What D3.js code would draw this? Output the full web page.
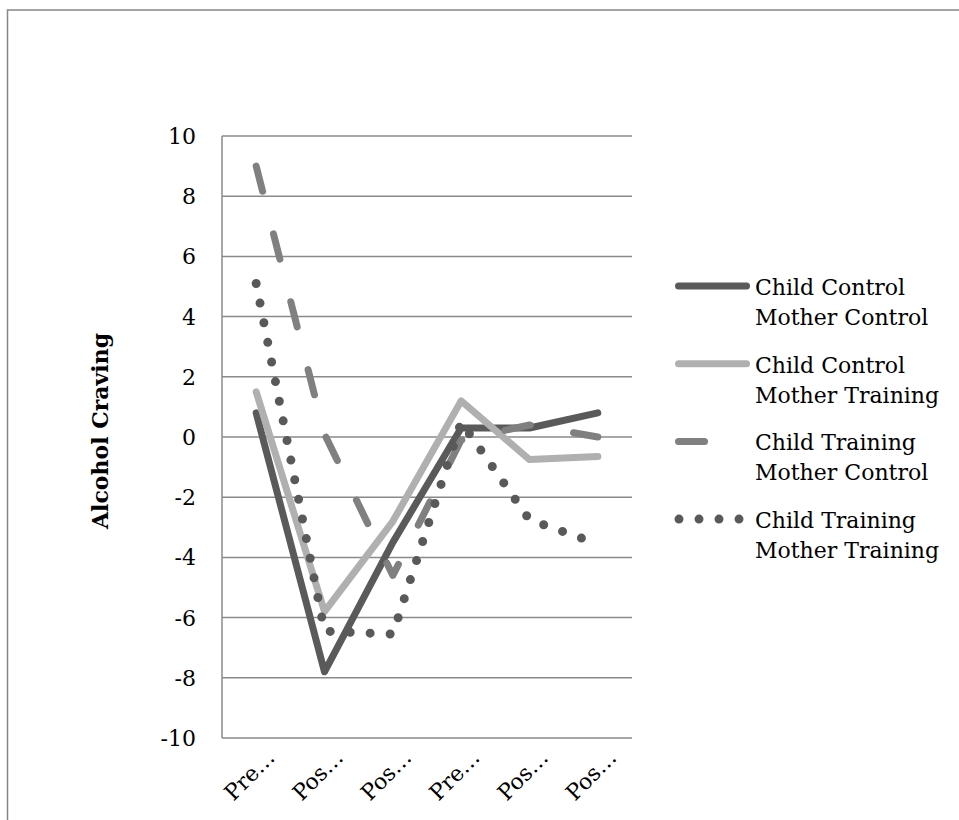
<!DOCTYPE html>
<html>
<head>
<meta charset="utf-8">
<script src="https://cdn.jsdelivr.net/npm/d3@7"></script>
<style>
  html, body { margin: 0; padding: 0; background: #fff; }
  svg { display: block; }
</style>
</head>
<body>
<div id="chart"></div>
<script>
// ---- data ----
const categories = ["Pre…", "Pos…", "Pos…", "Pre…", "Pos…", "Pos…"];
const yTicks = [10, 8, 6, 4, 2, 0, -2, -4, -6, -8, -10];
const seriesNames = [
  ["Child Control", "Mother Control"],
  ["Child Control", "Mother Training"],
  ["Child Training", "Mother Control"],
  ["Child Training", "Mother Training"]
];
const ccmc = [0.8, -7.8, -3.5, 0.3, 0.3, 0.8];
const ccmt = [1.5, -5.8, -2.8, 1.2, -0.75, -0.65];
const ctmc = [9.0, 0.1, -4.6, -0.1, 0.4, 0.0];
const ctmt = [5.1, -6.45, -6.55, 0.5, -2.75, -3.55];
const seriesValues = [ccmc, ccmt, ctmc, ctmt];

// ---- styles ----
const styles = [
  { color: "#5a5a5a", width: 7, dash: null },
  { color: "#b0b0b0", width: 7, dash: null },
  { color: "#808080", width: 7, dash: "26,44" },
  { color: "#595959", width: 9, dash: "0,20" }
];

const W = 959, H = 820;
const svg = d3.select("#chart").append("svg").attr("width", W).attr("height", H);

// outer chart border (extends beyond the right/bottom of the view)
svg.append("rect")
  .attr("x", 7.5).attr("y", 10)
  .attr("width", 1200).attr("height", 1200)
  .attr("fill", "none").attr("stroke", "#878787").attr("stroke-width", 1.5);

const plot = { left: 222, right: 632, top: 136, bottom: 738 };

const x = d3.scalePoint()
  .domain(d3.range(categories.length))
  .range([plot.left, plot.right])
  .padding(0.5);
const y = d3.scaleLinear().domain([-10, 10]).range([plot.bottom, plot.top]);

const font = "'DejaVu Serif', serif";
const fs = 22;

// gridlines
svg.append("g").selectAll("line").data(yTicks).join("line")
  .attr("x1", plot.left).attr("x2", plot.right)
  .attr("y1", d => y(d)).attr("y2", d => y(d))
  .attr("stroke", "#8a8a8a").attr("stroke-width", 1.5);

// y axis line
svg.append("line")
  .attr("x1", plot.left).attr("x2", plot.left)
  .attr("y1", plot.top).attr("y2", plot.bottom)
  .attr("stroke", "#8a8a8a").attr("stroke-width", 1.5);

// y tick labels
svg.append("g").selectAll("text").data(yTicks).join("text")
  .attr("x", 196).attr("y", d => y(d) + 8)
  .attr("text-anchor", "end")
  .attr("font-family", font).attr("font-size", fs).attr("fill", "#000")
  .text(d => d);

// x tick labels
svg.append("g").selectAll("text").data(categories).join("text")
  .attr("transform", (d, i) => `translate(${x(i) + 20},${759}) rotate(-45)`)
  .attr("text-anchor", "end")
  .attr("font-family", font).attr("font-size", fs).attr("fill", "#000")
  .text(d => d);

// y axis title
svg.append("text")
  .attr("transform", `translate(108,431) rotate(-90)`)
  .attr("text-anchor", "middle")
  .attr("font-family", font).attr("font-weight", "bold").attr("font-size", fs)
  .attr("fill", "#000")
  .text("Alcohol Craving");

// series lines
const line = d3.line().x((d, i) => x(i)).y(d => y(d));
seriesValues.forEach((vals, k) => {
  const s = styles[k];
  svg.append("path")
    .datum(vals)
    .attr("d", line)
    .attr("fill", "none")
    .attr("stroke", s.color)
    .attr("stroke-width", s.width)
    .attr("stroke-linecap", "round")
    .attr("stroke-linejoin", "round")
    .attr("stroke-dasharray", s.dash);
});

// legend
const legend = svg.append("g");
seriesNames.forEach((name, k) => {
  const s = styles[k];
  const ly = 286 + k * 77.7;
  const x1 = k === 3 ? 679 : 678.5;
  const x2 = k === 3 ? 742 : 746.5;
  legend.append("line")
    .attr("x1", x1).attr("x2", x2).attr("y1", ly).attr("y2", ly)
    .attr("stroke", s.color).attr("stroke-width", s.width)
    .attr("stroke-linecap", "round")
    .attr("stroke-dasharray", s.dash);
  const t = legend.append("text")
    .attr("x", 755).attr("y", ly + 9)
    .attr("font-family", font).attr("font-size", fs).attr("fill", "#000");
  t.append("tspan").attr("x", 755).text(name[0]);
  t.append("tspan").attr("x", 755).attr("dy", 30).text(name[1]);
});
</script>
</body>
</html>
